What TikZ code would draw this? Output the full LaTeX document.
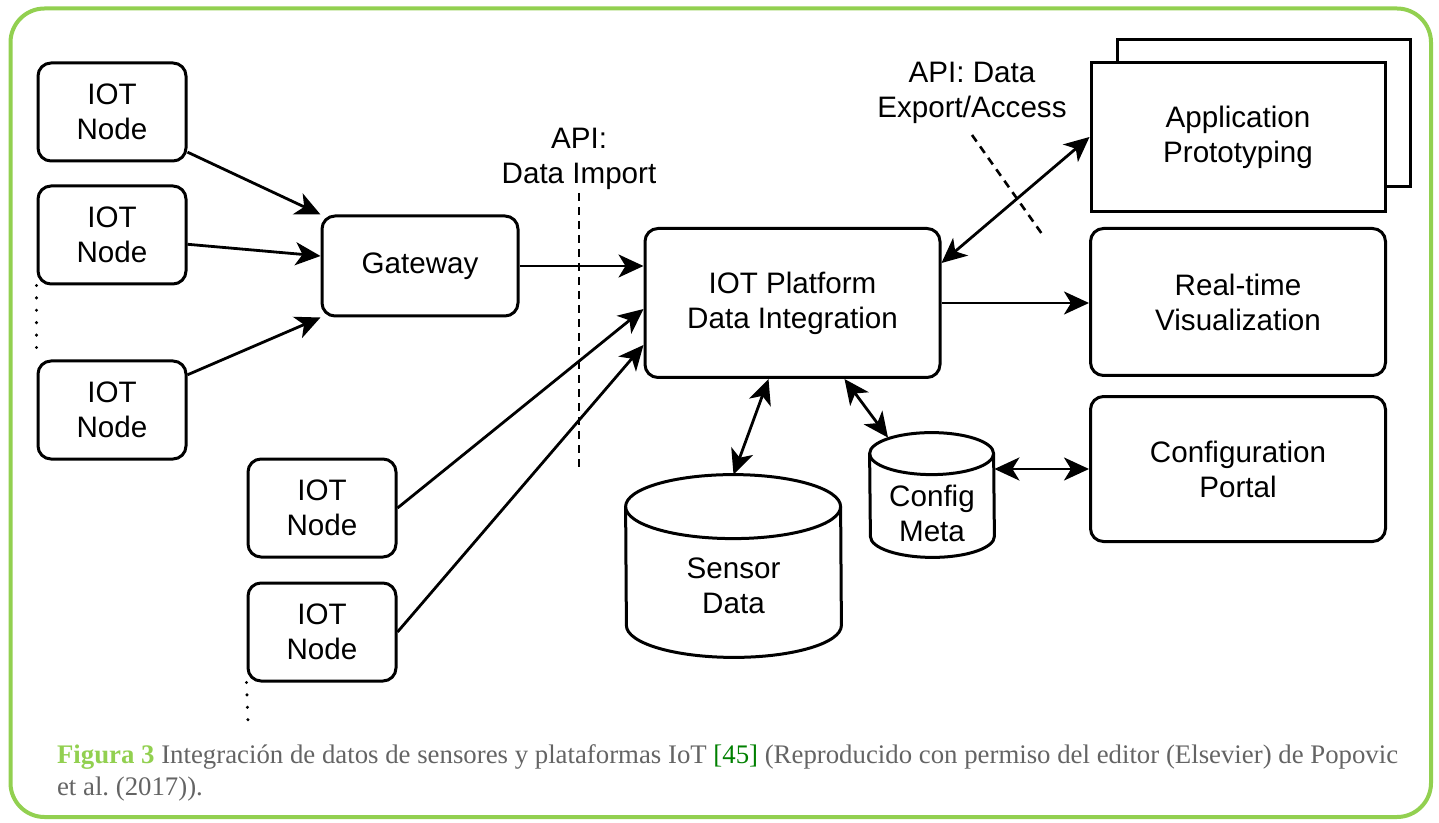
\documentclass[tikz,border=0pt]{standalone}
\usepackage{fontspec}
\setmainfont{Liberation Serif}
\setsansfont{Liberation Sans}
\usepackage{xcolor}
\usetikzlibrary{arrows.meta}
\definecolor{frameGreen}{RGB}{146,208,80}
\definecolor{citeGreen}{RGB}{0,128,0}
\definecolor{capGray}{RGB}{100,100,100}
\tikzset{%
  tipA/.tip={Stealth[length=12.5pt,width=11.5pt,inset=3.5pt]},
  boxtxt/.style={align=center, font=\sffamily\fontsize{14.8}{17.5}\selectfont},
  iotbox/.style={boxtxt, draw, line width=1.5pt, rounded corners=6.5pt},
  appbox/.style={boxtxt, draw, fill=white, line width=1.5pt},
  dbline/.style={line width=1.5pt},
  flow/.style={line width=1.4pt, -tipA},
  flowboth/.style={line width=1.4pt, tipA-tipA},
  apiline/.style={line width=1.3pt, dash pattern=on 4pt off 3pt},
  moreline/.style={line width=1.7pt, line cap=round, dash pattern=on 0pt off 6.2pt}
}

\begin{document}
\begin{tikzpicture}[x=.5pt,y=-.5pt]
\useasboundingbox (0,0) rectangle (1439,823);
\draw[frameGreen, line width=2pt, rounded corners=17pt] (10.5,8.5) rectangle (1431,817);
\node[iotbox, minimum width=74pt, minimum height=49pt] (n1) at (112,112) {IOT\\Node};
\node[iotbox, minimum width=74pt, minimum height=49pt] (n2) at (112,235) {IOT\\Node};
\node[iotbox, minimum width=74pt, minimum height=49pt] (n3) at (112,410) {IOT\\Node};
\node[iotbox, minimum width=74pt, minimum height=49pt] (n4) at (322,508) {IOT\\Node};
\node[iotbox, minimum width=74pt, minimum height=49pt] (n5) at (322,632) {IOT\\Node};
\node[iotbox, minimum width=98pt, minimum height=50pt] (gw) at (420,266) {Gateway};
\node[iotbox, minimum width=147.5pt, minimum height=74.5pt] (plat) at (792.5,303) {IOT Platform\\Data Integration};
\node[appbox, minimum width=146.5pt, minimum height=73.5pt] (appback) at (1263.5,113.5) {};
\node[appbox, minimum width=147pt, minimum height=74.5pt] (app) at (1238,137) {Application\\Prototyping};
\node[iotbox, minimum width=147.5pt, minimum height=73.5pt] (rtv) at (1238,302) {Real-time\\Visualization};
\node[iotbox, minimum width=147.5pt, minimum height=72.5pt] (portal) at (1238,469) {Configuration\\Portal};
\node[inner sep=0pt, minimum width=107.5pt, minimum height=91pt] (sens) at (733.5,566) {};
\draw[dbline] ([yshift=-16pt]sens.north west) arc[start angle=180, end angle=0, x radius=53.75pt, y radius=16pt] -- ([yshift=16pt]sens.south east) arc[start angle=0, end angle=-180, x radius=53.75pt, y radius=16pt] -- cycle;
\draw[dbline] ([yshift=-16pt]sens.north west) arc[start angle=180, end angle=360, x radius=53.75pt, y radius=16pt];
\node[boxtxt] (senstxt) at ([yshift=-10pt]sens.center) {Sensor\\Data};
\node[inner sep=0pt, minimum width=62pt, minimum height=62pt] (conf) at (932,495) {};
\draw[dbline] ([yshift=-10.5pt]conf.north west) arc[start angle=180, end angle=0, x radius=31pt, y radius=10.5pt] -- ([yshift=10.5pt]conf.south east) arc[start angle=0, end angle=-180, x radius=31pt, y radius=10.5pt] -- cycle;
\draw[dbline] ([yshift=-10.5pt]conf.north west) arc[start angle=180, end angle=360, x radius=31pt, y radius=10.5pt];
\node[boxtxt] (conftxt) at ([yshift=-9pt]conf.center) {Config\\Meta};
\node[boxtxt] (apiin) at (579,159) {API:\\Data Import};
\node[boxtxt] (apiout) at (972,93) {API: Data\\Export/Access};
\coordinate (inA) at (579,193);
\coordinate (inB) at (579,468);
\coordinate (outA) at (972,135);
\coordinate (outB) at (1042,234);
\coordinate (more5) at (248,722);
\draw[apiline] (inA) -- (inB);
\draw[apiline] (outA) -- (outB);
\draw[moreline] (n2.south west) -- (n3.north west);
\draw[moreline] (n5.south west) -- (more5);
\draw[flow] (n1.-28) -- (gw.north west);
\draw[flow] (n2.-7) -- ([yshift=5pt]gw.west);
\draw[flow] (n3.25) -- (gw.south west);
\draw[flow] (gw.east) -- (gw.east -| plat.west);
\draw[flow] (n4.east) -- ([yshift=-3pt]plat.west);
\draw[flow] (n5.east) -- ([yshift=-21pt]plat.west);
\draw[flowboth] ([xshift=-12pt]plat.south) -- (sens.north);
\draw[flowboth] ([xshift=26pt]plat.south) -- ([xshift=-22pt,yshift=-2.5pt]conf.north);
\draw[flowboth] ([yshift=20pt]plat.east) -- (app.west);
\draw[flow] (plat.east) -- (plat.east -| rtv.west);
\draw[flowboth] (portal.west -| conf.east) -- (portal.west);
\node[anchor=north west, align=left, text=capGray, font=\fontsize{13.4}{16}\selectfont] (cap) at (50,738) {{\color{frameGreen}\textbf{Figura 3}} Integración de datos de sensores y plataformas IoT {\color{citeGreen}[45]} (Reproducido con permiso del editor (Elsevier) de Popovic\\et al.\ (2017)).};
\end{tikzpicture}
\end{document}
